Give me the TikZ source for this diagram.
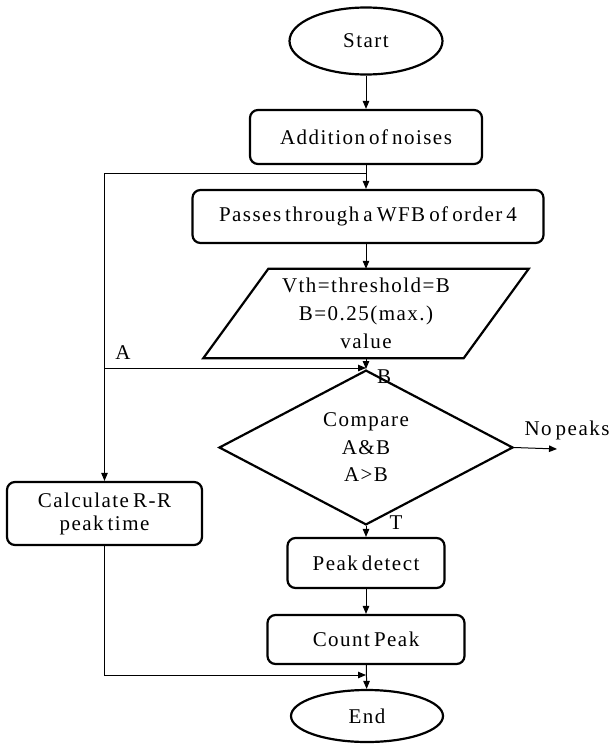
\documentclass[tikz,border=0pt]{standalone}
\usepackage{fontspec}
\setmainfont[LetterSpace=7,WordSpace=0.6]{Liberation Serif}
\usetikzlibrary{shapes.geometric,arrows.meta,calc}

\tikzset{
  box/.style={draw, line width=2.2pt, rounded corners=8pt, inner sep=0pt, align=center},
  term/.style={draw, ellipse, line width=2.2pt, inner sep=0pt},
  decide/.style={draw, diamond, line width=2.2pt, inner sep=0pt, align=center},
  conn/.style={line width=1pt, -{Triangle[length=8pt,width=6.5pt]}},
  lbl/.style={inner sep=0pt}
}

\begin{document}
\begin{tikzpicture}[x=1pt,y=-1pt,
  font=\fontsize{21}{28}\selectfont]
\useasboundingbox[fill=white] (0,0) rectangle (612,744);

% main column
\node[term, minimum width=153pt, minimum height=67pt] (start) at (366,41) {Start};
\node[box, minimum width=232pt, minimum height=54pt] (add) at (366,137) {Addition of noises};
\node[box, minimum width=351pt, minimum height=53pt] (wfb) at (368,216.5) {Passes through a WFB of order 4};

% threshold input (parallelogram drawn around a plain node)
\node[inner sep=0pt, minimum width=260pt, minimum height=89pt, align=center] (thr) at (366,313.5)
  {Vth=threshold=B\\B=0.25(max.)\\value};
\draw[line width=2.2pt, line join=miter]
  ($(thr.north west)+(32.5,0)$) -- ($(thr.north east)+(32.5,0)$) --
  ($(thr.south east)+(-32.5,0)$) -- ($(thr.south west)+(-32.5,0)$) -- cycle;

\node[decide, minimum width=294pt, minimum height=125pt,
      font=\fontsize{21}{27.5}\selectfont] (cmp) at (366,447.5) {Compare\\A\&B\\A>B};
\node[box, minimum width=157pt, minimum height=50pt] (peak) at (366,563) {Peak detect};
\node[box, minimum width=197pt, minimum height=49pt] (count) at (366,639.5) {Count Peak};
\node[term, minimum width=152pt, minimum height=52pt] (end) at (367,716) {End};

% side branch
\node[box, minimum width=195pt, minimum height=63pt,
      font=\fontsize{21}{23}\selectfont] (calc) at (104.5,513.5) {Calculate R-R\\peak time};

% junction points
\coordinate (jtop) at (366,173);
\coordinate (aL) at (104.5,368);
\coordinate (aR) at (366,368);
\coordinate (jbot) at (366,675);
\coordinate (np) at (557,449);

% connectors
\draw[conn] (start) -- (add);
\draw[conn] (add) -- (wfb.north -| add.south);
\draw[conn] (jtop) -| (calc.north);
\draw[conn] (wfb.south -| thr.north) -- (thr.north);
\draw[conn] (aL) -- (aR);
\draw[conn] (thr.south) -- (cmp.north);
\draw[conn] (cmp.east) -- (np);
\draw[conn] (cmp.south) -- (peak.north);
\draw[conn] (peak) -- (count);
\draw[conn] (count) -- (end);
\draw[conn] (calc.south) |- (jbot);

% labels
\node[lbl] (la) at (123,353) {A};
\node[lbl] (lb) at (384,377) {B};
\node[lbl] (lt) at (396,523) {T};
\node[lbl] (lnp) at (567,430) {No peaks};
\end{tikzpicture}
\end{document}
